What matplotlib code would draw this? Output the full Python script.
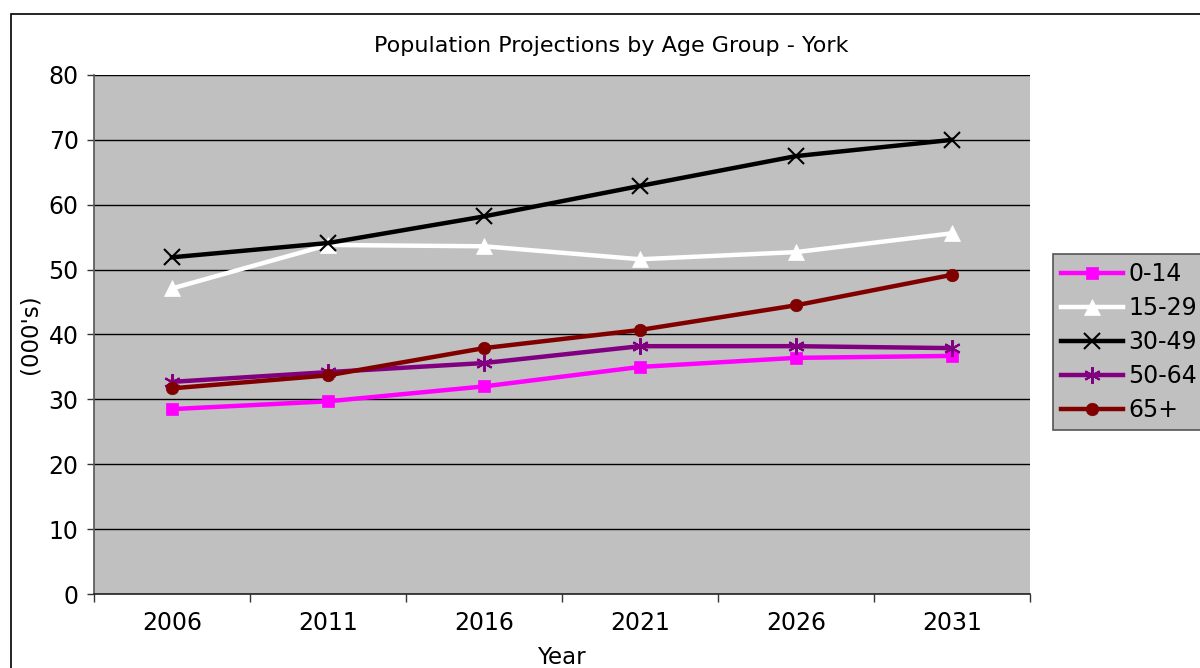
import matplotlib
matplotlib.use("Agg")
import matplotlib.pyplot as plt
from matplotlib.patches import Rectangle

years = ["2006", "2011", "2016", "2021", "2026", "2031"]
age_0_14 = [28.5, 29.7, 32.0, 35.0, 36.4, 36.7]
age_15_29 = [47.1, 53.8, 53.6, 51.6, 52.7, 55.6]
age_30_49 = [51.9, 54.1, 58.2, 62.9, 67.5, 70.0]
age_50_64 = [32.7, 34.2, 35.6, 38.2, 38.2, 37.9]
age_65p = [31.7, 33.7, 37.9, 40.7, 44.5, 49.2]
series_names = ["0-14", "15-29", "30-49", "50-64", "65+"]

plt.rcParams['font.family'] = ['DejaVu Sans']

fig = plt.figure(figsize=(12, 6.68), dpi=100)
W, H = 1200, 668

# outer chart frame
fig.patches.append(Rectangle((11 / W, -0.01), (W + 10 - 11) / W, (H - 14) / H + 0.01,
                             transform=fig.transFigure, fill=False,
                             edgecolor="black", linewidth=1.2))

ax = fig.add_axes([94 / W, (H - 594) / H, (1030 - 94) / W, (594 - 75) / H])
ax.set_facecolor("#C0C0C0")

x = list(range(len(years)))
styles = [
    (age_0_14, "#FF00FF", "s", 9),
    (age_15_29, "#FFFFFF", "^", 11),
    (age_30_49, "#000000", "x", 11),
    (age_50_64, "#800080", (6, 2, 0), 12),
    (age_65p, "#800000", "o", 9),
]
handles = []
for (vals, col, mk, ms), name in zip(styles, series_names):
    mew = 1.5 if mk in ("x",) or isinstance(mk, tuple) else 0.5
    h, = ax.plot(x, vals, color=col, linewidth=3.2, marker=mk,
                 markersize=ms, markeredgewidth=mew,
                 markeredgecolor=col, markerfacecolor=col, label=name)
    handles.append(h)

ax.set_xlim(-0.5, len(years) - 0.5)
ax.set_ylim(0, 80)
ax.set_yticks(range(0, 81, 10))
ax.set_xticks(x)
ax.set_xticklabels(years)
ax.set_xticks([i - 0.5 for i in range(len(years) + 1)], minor=True)
ax.tick_params(axis="x", which="major", length=0, labelsize=17, pad=12)
ax.tick_params(axis="x", which="minor", length=6, width=1, color="#333333")
ax.tick_params(axis="y", length=5, width=1, labelsize=17, pad=6, color="#333333")
ax.yaxis.grid(True, color="black", linewidth=1)
ax.set_axisbelow(True)
for side in ["top", "right"]:
    ax.spines[side].set_visible(False)
ax.spines["left"].set_color("#555555")
ax.spines["bottom"].set_color("#222222")
ax.spines["left"].set_linewidth(1.2)
ax.spines["bottom"].set_linewidth(1.2)

fig.text(30 / W, (H - 334) / H, "(000's)", fontsize=16.5, rotation=90,
         ha="center", va="center")
fig.text(561 / W, (H - 664) / H, "Year", fontsize=16.5, ha="center", va="baseline")
fig.text(611 / W, (H - 46) / H, "Population Projections by Age Group - York",
         fontsize=16, ha="center", va="center")

leg = fig.legend(handles=handles, labels=series_names, loc="upper left",
                 bbox_to_anchor=(1053 / W, (H - 254) / H), fontsize=17,
                 frameon=True, fancybox=False, facecolor="#C0C0C0",
                 edgecolor="#555555", handlelength=2.6, handletextpad=0.25,
                 borderpad=0.35, labelspacing=0.42, borderaxespad=0)
leg.get_frame().set_linewidth(1.2)
leg.get_frame().set_alpha(1)

fig.savefig("out.png", dpi=100)
